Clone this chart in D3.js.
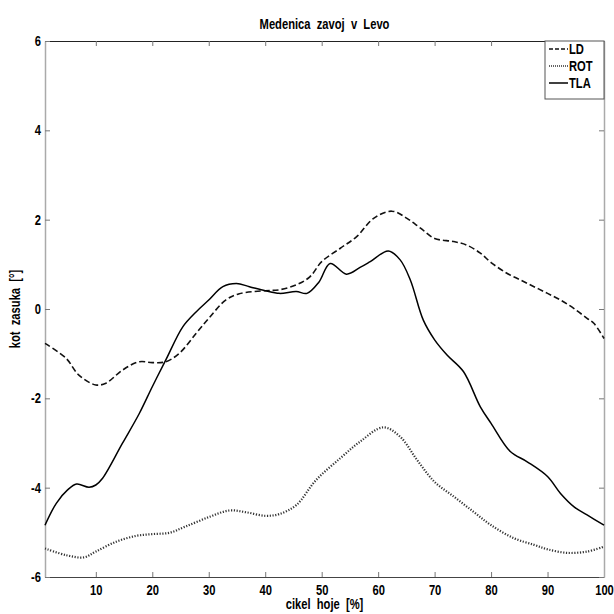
<!DOCTYPE html>
<html lang="sl">
<head>
<meta charset="UTF-8">
<title>Medenica zavoj v Levo</title>
<style>
  body { margin: 0; background: #fff; }
  text { font-family: "Liberation Sans Narrow", "Arial Narrow", "Liberation Sans", Arial, sans-serif; font-weight: bold; fill: #000; }
</style>
</head>
<body>
<div id="chart"></div>
<script src="https://d3js.org/d3.v7.min.js"></script>
<script>
// values (x = % of gait cycle, y = angle in degrees)
var ldX  = [1, 4.7, 7, 10, 11.8, 14.7, 17.7, 20, 22.4, 24.8, 27.8, 30, 33, 35.4, 40, 42.5, 45.5, 47.9, 50, 53.3, 56.2, 59.2, 62.4, 65.1, 67.5, 70, 73.4, 75.7, 78.1, 80, 82.8, 85.2, 87.6, 90, 92.3, 94.7, 97, 98.2, 100];
var ldY  = [-0.77, -1.10, -1.48, -1.70, -1.66, -1.37, -1.18, -1.20, -1.18, -0.99, -0.54, -0.21, 0.20, 0.34, 0.41, 0.43, 0.54, 0.72, 1.06, 1.36, 1.62, 2.03, 2.19, 2.03, 1.81, 1.58, 1.51, 1.43, 1.25, 1.04, 0.80, 0.65, 0.50, 0.35, 0.20, 0.01, -0.21, -0.32, -0.66];

var rotX = [1, 4.7, 7.9, 10, 13.6, 17.1, 20, 23, 25.9, 30, 33.7, 36.6, 40, 42.5, 45.5, 49, 53.3, 56.8, 60.9, 63.9, 66.9, 70, 73.4, 76.9, 80, 84, 87.6, 90, 93.5, 97, 100];
var rotY = [-5.36, -5.51, -5.56, -5.43, -5.21, -5.08, -5.04, -5.01, -4.87, -4.66, -4.51, -4.55, -4.63, -4.59, -4.39, -3.83, -3.34, -2.97, -2.65, -2.86, -3.38, -3.87, -4.20, -4.54, -4.84, -5.13, -5.28, -5.38, -5.46, -5.43, -5.32];

var tlaX = [1, 3, 5, 6.6, 8.8, 10, 11.2, 14.7, 17.7, 20, 22.4, 25.4, 27.8, 30, 32.5, 34.9, 37.2, 40, 42.5, 45.5, 47.4, 49.5, 51.5, 54.4, 56.8, 58.6, 61.8, 63.9, 65.7, 68, 70, 72.2, 75.1, 78.1, 80, 83.4, 86.4, 90, 92.3, 94.7, 97, 100];
var tlaY = [-4.84, -4.35, -4.05, -3.92, -3.99, -3.94, -3.79, -3.01, -2.34, -1.74, -1.14, -0.40, -0.06, 0.20, 0.50, 0.57, 0.50, 0.41, 0.35, 0.39, 0.35, 0.60, 1.02, 0.78, 0.93, 1.06, 1.30, 1.10, 0.65, -0.25, -0.69, -1.03, -1.40, -2.19, -2.56, -3.19, -3.42, -3.75, -4.13, -4.43, -4.61, -4.84];

var xTicks = [10, 20, 30, 40, 50, 60, 70, 80, 90, 100];
var yTicks = [-6, -4, -2, 0, 2, 4, 6];
var legendNames = ["LD", "ROT", "TLA"];

var W = 614, H = 614;
var mLeft = 45, mRight = 604, mTop = 41, mBottom = 577;
var narrow = "scale(0.8,1)";

var svg = d3.select("#chart").append("svg")
    .attr("width", W)
    .attr("height", H);

var x = d3.scaleLinear().domain([1, 100]).range([mLeft, mRight]);
var y = d3.scaleLinear().domain([-6, 6]).range([mBottom, mTop]);

// plain hyphen minus like the original
var fmt = function(d) { return String(d); };

// axes with MATLAB style inward ticks on every side
svg.append("g")
    .attr("transform", "translate(0," + mBottom + ")")
    .call(d3.axisBottom(x).tickValues(xTicks).tickFormat(fmt).tickSize(-5).tickPadding(8).tickSizeOuter(0))
    .call(function(g) {
        g.select(".domain").attr("stroke", "#444");
        g.selectAll("line").attr("stroke", "#777");
        g.selectAll("text").attr("font-size", 14).attr("font-family", null).attr("transform", narrow);
    });

svg.append("g")
    .attr("transform", "translate(0," + mTop + ")")
    .call(d3.axisTop(x).tickValues(xTicks).tickSize(-5).tickFormat("").tickSizeOuter(0))
    .call(function(g) { g.select(".domain").attr("stroke", "#222"); g.selectAll("line").attr("stroke", "#777"); });

svg.append("g")
    .attr("transform", "translate(" + mLeft + ",0)")
    .call(d3.axisLeft(y).tickValues(yTicks).tickFormat(fmt).tickSize(-5).tickPadding(5).tickSizeOuter(0))
    .call(function(g) {
        g.select(".domain").attr("stroke", "#aaa").attr("stroke-width", 1.5);
        g.selectAll("line").attr("stroke", "#777");
        g.selectAll("text").attr("font-size", 14).attr("font-family", null).attr("transform", narrow);
    });

svg.append("g")
    .attr("transform", "translate(" + mRight + ",0)")
    .call(d3.axisRight(y).tickValues(yTicks).tickSize(-5).tickFormat("").tickSizeOuter(0))
    .call(function(g) { g.select(".domain").attr("stroke", "#aaa").attr("stroke-width", 1.5); g.selectAll("line").attr("stroke", "#777"); });

// series
var series = [
    { name: "LD",  xs: ldX,  ys: ldY,  color: "#111", width: 1.6, dash: "6,3" },
    { name: "ROT", xs: rotX, ys: rotY, color: "#333", width: 2.2, dash: "1.2,1.6" },
    { name: "TLA", xs: tlaX, ys: tlaY, color: "#000", width: 1.5, dash: null }
];

var line = d3.line()
    .x(function(d) { return x(d[0]); })
    .y(function(d) { return y(d[1]); })
    .curve(d3.curveCatmullRom.alpha(0.5));

svg.append("g").selectAll("path")
    .data(series)
    .enter()
    .append("path")
    .attr("d", function(s) { return line(d3.zip(s.xs, s.ys)); })
    .attr("fill", "none")
    .attr("stroke", function(s) { return s.color; })
    .attr("stroke-width", function(s) { return s.width; })
    .attr("stroke-dasharray", function(s) { return s.dash; });

// legend
var lg = svg.append("g");
lg.append("rect")
    .attr("x", 545).attr("y", mTop)
    .attr("width", mRight - 545).attr("height", 58)
    .attr("fill", "#fff").attr("stroke", "#555");

var item = lg.selectAll("g.item")
    .data(legendNames)
    .enter()
    .append("g")
    .attr("transform", function(d, i) { return "translate(0," + (49 + i * 17) + ")"; });

item.append("line")
    .attr("x1", 549).attr("x2", 568)
    .attr("y1", 0).attr("y2", 0)
    .attr("stroke", function(d, i) { return series[i].color; })
    .attr("stroke-width", function(d, i) { return Math.min(series[i].width, 1.6); })
    .attr("stroke-dasharray", function(d, i) { return series[i].dash ? (i === 0 ? "4,2" : "1,1") : null; });

item.append("text")
    .attr("transform", "translate(569,0) " + narrow)
    .attr("dy", "0.35em")
    .attr("font-size", 14)
    .text(function(d) { return d; });

// titles
svg.append("text")
    .attr("transform", "translate(" + ((mLeft + mRight) / 2) + ",29) " + narrow)
    .attr("text-anchor", "middle")
    .attr("font-size", 14)
    .attr("xml:space", "preserve")
    .text("Medenica  zavoj  v  Levo");

svg.append("text")
    .attr("transform", "translate(" + ((mLeft + mRight) / 2) + ",609) " + narrow)
    .attr("text-anchor", "middle")
    .attr("font-size", 14)
    .attr("xml:space", "preserve")
    .text("cikel  hoje  [%]");

svg.append("text")
    .attr("transform", "translate(20," + ((mTop + mBottom) / 2) + ") rotate(-90) " + narrow)
    .attr("text-anchor", "middle")
    .attr("font-size", 14)
    .attr("xml:space", "preserve")
    .text("kot  zasuka  [°]");
</script>
</body>
</html>
